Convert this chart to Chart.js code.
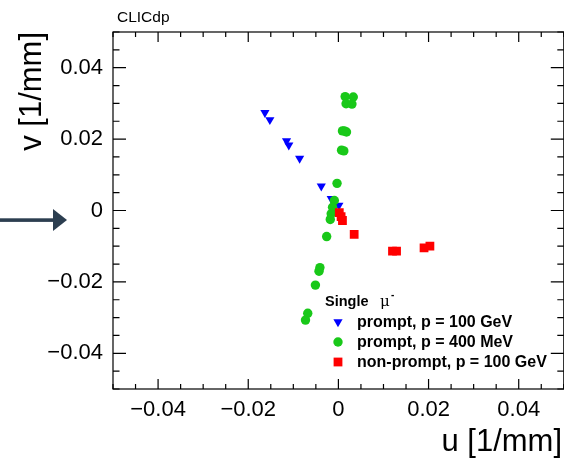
<!DOCTYPE html>
<html>
<head>
<meta charset="utf-8">
<script src="https://cdn.jsdelivr.net/npm/chart.js@4/dist/chart.umd.min.js"></script>
<style>
  html, body { margin: 0; padding: 0; background: #fff; overflow: hidden; }
  #wrap { position: absolute; left: 0; top: 0; width: 570px; height: 459px; }
</style>
</head>
<body>
<div id="wrap"><canvas id="Chart" width="570" height="459"></canvas></div>
<script>
// hit positions in the (u, v) conformal plane, 1/mm
var prompt100U = [-0.0163, -0.0152, -0.0115, -0.0110, -0.0086, -0.0038, -0.0016, 0.0001];
var prompt100V = [0.0274, 0.0254, 0.0195, 0.0183, 0.0146, 0.0068, 0.0033, 0.0014];

var prompt400U = [0.0015, 0.0033, 0.0017, 0.0030, 0.0009, 0.0018, 0.0013, 0.0007, 0.0012,
                  -0.0003, -0.0009, -0.0013, -0.0016, -0.0018, -0.0026, -0.0041, -0.0043,
                  -0.0051, -0.0068, -0.0073];
var prompt400V = [0.0319, 0.0318, 0.0299, 0.0298, 0.0223, 0.0220, 0.0223, 0.0169, 0.0167,
                  0.0076, 0.0028, 0.0009, -0.0009, -0.0025, -0.0073, -0.0160, -0.0170,
                  -0.0209, -0.0288, -0.0307];

var nonPromptU = [0.0002, 0.0006, 0.0009, 0.0035, 0.0120, 0.0129, 0.0190, 0.0203];
var nonPromptV = [-0.0006, -0.0017, -0.0028, -0.0067, -0.0114, -0.0114, -0.0105, -0.0100];

var axisTicks = [-0.04, -0.02, 0, 0.02, 0.04];
var legendLabels = ["prompt, p = 100 GeV", "prompt, p = 400 MeV", "non-prompt, p = 100 GeV"];

var BLUE = "#0000ff", GREEN = "#19c819", RED = "#ff0000";
var FONT = "'Liberation Sans', Arial, Helvetica, sans-serif";

function toPoints(us, vs) {
  var pts = [];
  for (var i = 0; i < us.length; i++) {
    pts.push({ x: us[i], y: vs[i] });
  }
  return pts;
}

function tickLabel(v) {
  if (Math.abs(v) < 1e-9) return "0";
  return (v < 0 ? "\u2212" : "") + Math.abs(v).toFixed(2);
}

function marker(ctx, style, x, y, color) {
  ctx.fillStyle = color;
  ctx.beginPath();
  if (style == "tri") {
    ctx.moveTo(x - 4.6, y - 2.7);
    ctx.lineTo(x + 4.6, y - 2.7);
    ctx.lineTo(x, y + 5.3);
  } else if (style == "circle") {
    ctx.arc(x, y, 4.7, 0, Math.PI * 2);
  } else {
    ctx.rect(x - 4.4, y - 4.4, 8.8, 8.8);
  }
  ctx.closePath();
  ctx.fill();
}

// frame with inward ticks, titles, legend and the arrow
var decorations = {
  id: "decorations",
  afterDraw: function(chart) {
    var ctx = chart.ctx;
    var a = chart.chartArea;
    var xs = chart.scales.x, ys = chart.scales.y;
    ctx.save();

    ctx.strokeStyle = "#000";
    ctx.lineWidth = 1.2;
    ctx.strokeRect(a.left, a.top, a.right - a.left, a.bottom - a.top);

    ctx.beginPath();
    for (var k = -10; k <= 10; k++) {
      var v = k * 0.005;
      var major = (k % 4 == 0);
      var px = xs.getPixelForValue(v);
      var lx = major ? 10 : 5;
      ctx.moveTo(px, a.bottom); ctx.lineTo(px, a.bottom - lx);
      ctx.moveTo(px, a.top); ctx.lineTo(px, a.top + lx);
      var py = ys.getPixelForValue(v);
      var ly = major ? 13 : 6.5;
      ctx.moveTo(a.left, py); ctx.lineTo(a.left + ly, py);
      ctx.moveTo(a.right, py); ctx.lineTo(a.right - ly, py);
    }
    ctx.stroke();

    ctx.fillStyle = "#000";
    ctx.font = "15.5px " + FONT;
    ctx.textAlign = "left";
    ctx.textBaseline = "alphabetic";
    ctx.fillText("CLICdp", 117, 22);

    ctx.font = "31px " + FONT;
    ctx.textAlign = "right";
    ctx.fillText("u [1/mm]", 562, 451);
    ctx.save();
    ctx.translate(41, 32);
    ctx.rotate(-Math.PI / 2);
    ctx.fillText("v [1/mm]", 0, 0);
    ctx.restore();

    // legend
    ctx.textAlign = "left";
    ctx.font = "bold 14.5px " + FONT;
    ctx.fillText("Single", 325, 306);
    ctx.font = "15px 'DejaVu Serif', serif";
    ctx.fillText("\u03bc", 380, 306);
    ctx.font = "bold 10px " + FONT;
    ctx.fillText("-", 391, 298);

    var styles = ["tri", "circle", "rect"];
    var colors = [BLUE, GREEN, RED];
    ctx.font = "bold 16px " + FONT;
    ctx.textBaseline = "middle";
    for (var i = 0; i < legendLabels.length; i++) {
      var ry = 322 + i * 20;
      marker(ctx, styles[i], 338, ry, colors[i]);
      ctx.fillStyle = "#000";
      ctx.fillText(legendLabels[i], 357, ry + 1);
    }

    // arrow on the left margin
    ctx.fillStyle = "#2c3e50";
    ctx.fillRect(0, 218.3, 55, 3.6);
    ctx.beginPath();
    ctx.moveTo(53, 209);
    ctx.lineTo(67, 220);
    ctx.lineTo(53, 231);
    ctx.closePath();
    ctx.fill();

    ctx.restore();
  }
};

var ctx = document.getElementById("Chart");
var chart = new Chart(ctx, {
  type: "scatter",
  data: {
    datasets: [{
      label: legendLabels[0],
      data: toPoints(prompt100U, prompt100V),
      pointStyle: "triangle",
      rotation: 180,
      pointRadius: 5.3,
      backgroundColor: BLUE,
      borderWidth: 0,
      order: 3
    }, {
      label: legendLabels[1],
      data: toPoints(prompt400U, prompt400V),
      pointStyle: "circle",
      pointRadius: 4.7,
      backgroundColor: GREEN,
      borderWidth: 0,
      order: 2
    }, {
      label: legendLabels[2],
      data: toPoints(nonPromptU, nonPromptV),
      pointStyle: "rect",
      pointRadius: 6.2,
      backgroundColor: RED,
      borderWidth: 0,
      order: 1
    }]
  },
  options: {
    responsive: false,
    animation: false,
    events: [],
    layout: { padding: { left: 0, top: 32, right: 4, bottom: 0 } },
    plugins: { legend: { display: false }, tooltip: { enabled: false } },
    scales: {
      x: {
        type: "linear",
        min: -0.05,
        max: 0.05,
        afterBuildTicks: function(s) { s.ticks = axisTicks.map(function(v) { return { value: v }; }); },
        afterFit: function(s) { s.height = 70; },
        grid: { display: false, drawTicks: false },
        border: { display: false },
        ticks: {
          padding: 8,
          maxRotation: 0,
          autoSkip: false,
          color: "#000",
          font: { family: FONT, size: 22 },
          callback: tickLabel
        }
      },
      y: {
        type: "linear",
        min: -0.05,
        max: 0.05,
        afterBuildTicks: function(s) { s.ticks = axisTicks.map(function(v) { return { value: v }; }); },
        afterFit: function(s) { s.width = 113; },
        grid: { display: false, drawTicks: false },
        border: { display: false },
        ticks: {
          padding: 10,
          autoSkip: false,
          color: "#000",
          font: { family: FONT, size: 22 },
          callback: tickLabel
        }
      }
    }
  },
  plugins: [decorations]
});
</script>
</body>
</html>
